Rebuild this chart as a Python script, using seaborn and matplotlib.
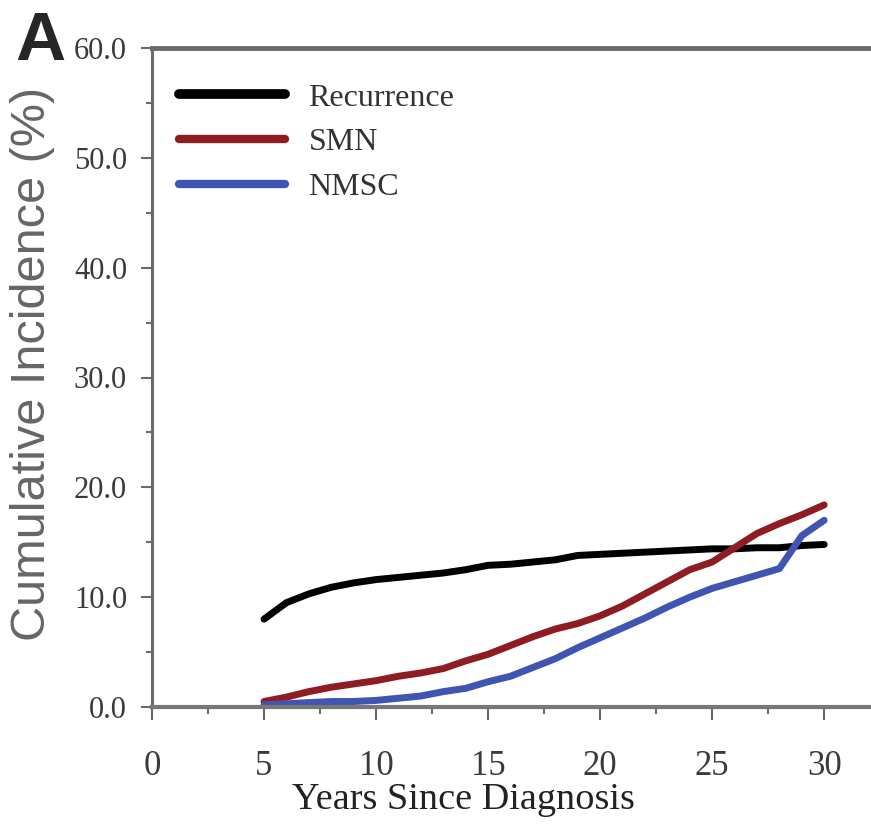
import numpy as np
import pandas as pd
import matplotlib
matplotlib.use("Agg")
import matplotlib.pyplot as plt
import seaborn as sns
from matplotlib.ticker import MultipleLocator, FormatStrFormatter

# ---- data ----
years = [5, 6, 7, 8, 9, 10, 11, 12, 13, 14, 15, 16, 17, 18, 19, 20,
         21, 22, 23, 24, 25, 26, 27, 28, 29, 30]
recurrence = [8.0, 9.5, 10.3, 10.9, 11.3, 11.6, 11.8, 12.0, 12.2, 12.5, 12.9, 13.0,
              13.2, 13.4, 13.8, 13.9, 14.0, 14.1, 14.2, 14.3, 14.4, 14.4, 14.5, 14.5,
              14.7, 14.8]
smn = [0.5, 0.9, 1.4, 1.8, 2.1, 2.4, 2.8, 3.1, 3.5, 4.2, 4.8, 5.6, 6.4, 7.1, 7.6,
       8.3, 9.2, 10.3, 11.4, 12.5, 13.2, 14.5, 15.8, 16.7, 17.5, 18.4]
nmsc = [0.2, 0.3, 0.4, 0.5, 0.5, 0.6, 0.8, 1.0, 1.4, 1.7, 2.3, 2.8, 3.6, 4.4, 5.4,
        6.3, 7.2, 8.1, 9.1, 10.0, 10.8, 11.4, 12.0, 12.6, 15.6, 17.0]
series_names = ["Recurrence", "SMN", "NMSC"]
series_colors = ["#000000", "#8e1c22", "#4054b2"]
y_ticks = [0, 10, 20, 30, 40, 50, 60]
x_ticks = [0, 5, 10, 15, 20, 25, 30]

df = pd.concat([
    pd.DataFrame({"Years": years, "Incidence": vals, "Series": name})
    for name, vals in zip(series_names, [recurrence, smn, nmsc])
], ignore_index=True)

sns.set_style("ticks")
plt.rcParams["font.family"] = ["Liberation Serif", "DejaVu Serif"]

fig = plt.figure(figsize=(8.71, 8.32), dpi=100)
ax = fig.add_axes([152 / 871, 1 - 707 / 832, (869 - 152) / 871, (707 - 48) / 832])

sns.lineplot(data=df, x="Years", y="Incidence", hue="Series",
             palette=dict(zip(series_names, series_colors)),
             hue_order=series_names, linewidth=5, ax=ax, legend=False)

ax.set_xlim(0, 32)
ax.set_ylim(0, 60)
ax.set_xticks(x_ticks)
ax.set_yticks(y_ticks)
ax.yaxis.set_major_formatter(FormatStrFormatter("%.1f"))
ax.xaxis.set_minor_locator(MultipleLocator(2.5))
ax.yaxis.set_minor_locator(MultipleLocator(5))

spine_col = "#6a6a6a"
ax.spines["right"].set_visible(False)
ax.spines["top"].set_color(spine_col)
ax.spines["top"].set_linewidth(3.5)
ax.spines["left"].set_color(spine_col)
ax.spines["left"].set_linewidth(2.2)
ax.spines["bottom"].set_color("#777777")
ax.spines["bottom"].set_linewidth(3.0)

ax.tick_params(axis="x", which="major", direction="out", length=9, width=1.5,
               color=spine_col, labelsize=25, labelcolor="#3a3a3a", pad=22)
ax.tick_params(axis="x", which="minor", direction="out", length=5, width=1.5,
               color=spine_col)
ax.tick_params(axis="y", which="major", direction="out", length=8, width=1.5,
               color=spine_col, labelsize=22, labelcolor="#3a3a3a", pad=10)
ax.tick_params(axis="y", which="minor", direction="out", length=4, width=1.5,
               color=spine_col)

ax.set_xlabel("Years Since Diagnosis", fontsize=27.5, color="#222222")
ax.xaxis.set_label_coords(0.435, -0.115)
ax.set_ylabel("Cumulative Incidence (%)", fontsize=35, color="#666666",
              family=["Liberation Sans", "DejaVu Sans"])
ax.yaxis.set_label_coords(-0.135, 0.52)

handles = [plt.Line2D([], [], color=c, linewidth=7 if i == 0 else 6)
           for i, c in enumerate(series_colors)]
ax.legend(handles, series_names, loc="upper left", bbox_to_anchor=(0.02, 0.966),
          frameon=False, fontsize=23, handlelength=3.3, handletextpad=0.75,
          labelspacing=0.48, borderaxespad=0, labelcolor="#333333")

fig.text(15 / 871, 1 - 10 / 832, "A", fontsize=50, fontweight="bold",
         family=["Liberation Sans", "DejaVu Sans"], va="top", ha="left")

fig.savefig("out.png", dpi=100)
